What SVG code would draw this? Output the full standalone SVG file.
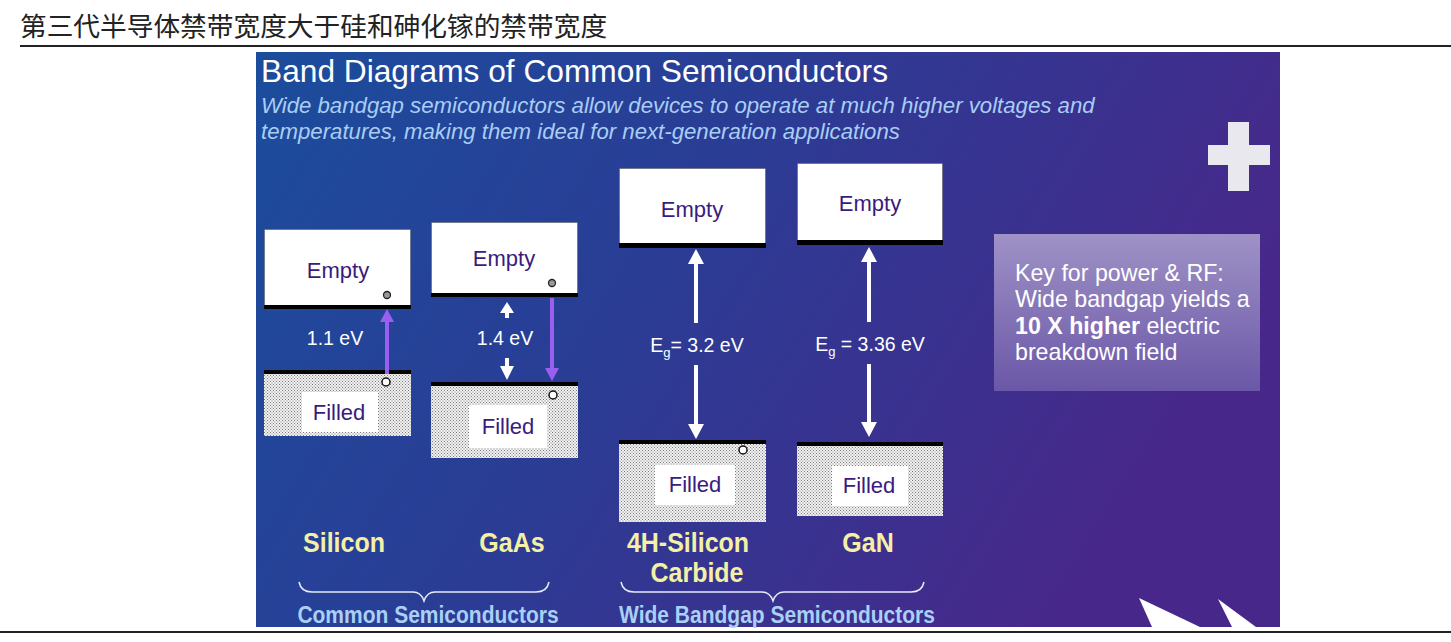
<svg xmlns="http://www.w3.org/2000/svg" width="1451" height="642" viewBox="0 0 1451 642">
<defs>
<linearGradient id="bg" x1="0" y1="0" x2="1" y2="0.35">
<stop offset="0" stop-color="#1b4d9d"/>
<stop offset="0.45" stop-color="#2a3d95"/>
<stop offset="1" stop-color="#47288a"/>
</linearGradient>
<linearGradient id="key" x1="0" y1="0" x2="0" y2="1">
<stop offset="0" stop-color="#9f92c6"/>
<stop offset="1" stop-color="#6a57a7"/>
</linearGradient>
<pattern id="dots" width="3" height="3" patternUnits="userSpaceOnUse">
<rect width="3" height="3" fill="#f2f2f2"/>
<rect x="0" y="0" width="1" height="1" fill="#7a7a7a"/>
<rect x="1.5" y="1.5" width="1" height="1" fill="#7a7a7a"/>
</pattern>
<style>
.cjk{font-family:"Liberation Sans","Noto Sans CJK SC",sans-serif;}
.sans{font-family:"Liberation Sans",Arial,sans-serif;}
.empty{fill:#fff;stroke:#555;stroke-width:1;stroke-dasharray:1 1;}
.filled{fill:url(#dots);}
.bar{fill:#000;}
.lbl{fill:#fff;}
.bandtxt{font-family:"Liberation Sans",Arial,sans-serif;font-size:22px;fill:#3a1b7e;text-anchor:middle;}
.hole{fill:#999;stroke:#222;stroke-width:1.3;}
.holew{fill:#fff;stroke:#111;stroke-width:1.5;}
.eg{font-family:"Liberation Sans",Arial,sans-serif;font-size:19.5px;fill:#fff;text-anchor:middle;}
.mat{font-family:"Liberation Sans",Arial,sans-serif;font-size:25px;font-weight:bold;fill:#f4f0a6;text-anchor:middle;}
.grp{font-family:"Liberation Sans",Arial,sans-serif;font-size:21px;font-weight:bold;fill:#a9d0f6;text-anchor:middle;}
.brace{fill:none;stroke:#e6ecf8;stroke-width:1.5;}
.warr{fill:#fff;}
.parr{fill:#9a5ef0;}
</style>
</defs>
<rect width="1451" height="642" fill="#fff"/>
<text class="cjk" x="20" y="36" font-size="26.7" fill="#222">第三代半导体禁带宽度大于硅和砷化镓的禁带宽度</text>
<rect x="20" y="45" width="1431" height="2" fill="#222"/>
<rect x="0" y="631" width="1451" height="2" fill="#222"/>

<g id="panel">
<rect x="256" y="52" width="1024" height="575" fill="url(#bg)"/>
<text class="sans" x="261" y="82" font-size="31.7" fill="#fff">Band Diagrams of Common Semiconductors</text>
<text class="sans" x="261" y="113" font-size="22.2" font-style="italic" fill="#a9cdf5">Wide bandgap semiconductors allow devices to operate at much higher voltages and</text>
<text class="sans" x="261" y="139" font-size="22.2" font-style="italic" fill="#a9cdf5">temperatures, making them ideal for next-generation applications</text>
<path d="M1228 122H1249V145H1270V165H1249V191H1228V165H1208V145H1228Z" fill="#e9e8ef"/>
<polygon points="1139,598 1200,627 1152,627" fill="#fff"/>
<polygon points="1218,599 1256,627 1232,627" fill="#fff"/>
</g>

<g id="silicon">
<rect class="empty" x="264.5" y="229.5" width="146" height="76"/>
<rect class="bar" x="264" y="305" width="147" height="4"/>
<text class="bandtxt" x="338" y="278">Empty</text>
<circle class="hole" cx="387" cy="295" r="3.5"/>
<rect class="filled" x="264" y="374" width="147" height="62"/>
<rect class="bar" x="264" y="370" width="147" height="4"/>
<rect class="lbl" x="302" y="392" width="76" height="40"/>
<text class="bandtxt" x="339" y="420">Filled</text>
<circle class="holew" cx="386" cy="382" r="4"/>
<text class="eg" x="335" y="345">1.1 eV</text>
</g>

<g id="gaas">
<rect class="empty" x="431.5" y="222.5" width="146" height="71"/>
<rect class="bar" x="431" y="293" width="147" height="4"/>
<text class="bandtxt" x="504" y="266">Empty</text>
<circle class="hole" cx="552" cy="283" r="3.5"/>
<rect class="filled" x="431" y="386" width="147" height="72"/>
<rect class="bar" x="431" y="382" width="147" height="4"/>
<rect class="lbl" x="469" y="405" width="78" height="43"/>
<text class="bandtxt" x="508" y="434">Filled</text>
<circle class="holew" cx="553" cy="395" r="4"/>
<text class="eg" x="505" y="345">1.4 eV</text>
</g>

<g id="sic">
<rect class="empty" x="619.5" y="168.5" width="146" height="75"/>
<rect class="bar" x="619" y="243" width="147" height="5"/>
<text class="bandtxt" x="692" y="217">Empty</text>
<rect class="filled" x="619" y="444" width="147" height="78"/>
<rect class="bar" x="619" y="440" width="147" height="4"/>
<rect class="lbl" x="655" y="465" width="80" height="40"/>
<text class="bandtxt" x="695" y="492">Filled</text>
<circle class="holew" cx="743" cy="450" r="4"/>
<text class="eg" x="697" y="352">E<tspan font-size="13" dy="5">g</tspan><tspan dy="-5">= 3.2 eV</tspan></text>
</g>

<g id="gan">
<rect class="empty" x="797.5" y="163.5" width="145" height="77"/>
<rect class="bar" x="797" y="240" width="146" height="5"/>
<text class="bandtxt" x="870" y="211">Empty</text>
<rect class="filled" x="797" y="446" width="146" height="70"/>
<rect class="bar" x="797" y="442" width="146" height="4"/>
<rect class="lbl" x="832" y="466" width="76" height="40"/>
<text class="bandtxt" x="869" y="493">Filled</text>
<text class="eg" x="870" y="351">E<tspan font-size="13" dy="5">g</tspan><tspan dy="-5"> = 3.36 eV</tspan></text>
</g>

<g id="connectors">
<rect class="parr" x="385" y="320" width="4" height="54"/>
<polygon class="parr" points="387,309 380,322 394,322"/>
<rect class="parr" x="550" y="298" width="4" height="71"/>
<polygon class="parr" points="552,381 545,368 559,368"/>
<rect class="warr" x="505" y="311" width="4" height="7"/>
<polygon class="warr" points="507,302 500,313 514,313"/>
<rect class="warr" x="505" y="358" width="4" height="9"/>
<polygon class="warr" points="507,380 500,366 514,366"/>
<rect class="warr" x="694" y="262" width="4" height="61"/>
<polygon class="warr" points="696,249 688,264 704,264"/>
<rect class="warr" x="694" y="365" width="4" height="61"/>
<polygon class="warr" points="696,439 688,424 704,424"/>
<rect class="warr" x="867" y="260" width="4" height="62"/>
<polygon class="warr" points="869,247 861,262 877,262"/>
<rect class="warr" x="867" y="364" width="4" height="60"/>
<polygon class="warr" points="869,437 861,422 877,422"/>
</g>

<g id="key-box">
<rect x="994" y="234" width="266" height="157" fill="url(#key)"/>
<text class="sans" font-size="23.2" fill="#fff">
<tspan x="1015" y="281">Key for power &amp; RF:</tspan>
<tspan x="1015" y="307">Wide bandgap yields a</tspan>
<tspan x="1015" y="334"><tspan font-weight="bold">10 X higher</tspan> electric</tspan>
<tspan x="1015" y="360">breakdown field</tspan>
</text>
</g>

<g id="labels">
<text class="mat" transform="translate(344,552) scale(1,1.1)">Silicon</text>
<text class="mat" transform="translate(512,552) scale(1,1.1)">GaAs</text>
<text class="mat" transform="translate(688,552) scale(1,1.1)">4H-Silicon</text>
<text class="mat" transform="translate(697,582) scale(1,1.1)">Carbide</text>
<text class="mat" transform="translate(868,552) scale(1,1.1)">GaN</text>
<path class="brace" d="M299 582Q301 592 312 592H413Q421 592 424 601Q427 592 435 592H536Q547 592 549 582"/>
<path class="brace" d="M621 582Q623 592 634 592H762Q770 592 773 601Q776 592 784 592H911Q922 592 924 582"/>
<text class="grp" transform="translate(428,623) scale(1,1.1)">Common Semiconductors</text>
<text class="grp" transform="translate(777,623) scale(1,1.1)">Wide Bandgap Semiconductors</text>
</g>
</svg>
